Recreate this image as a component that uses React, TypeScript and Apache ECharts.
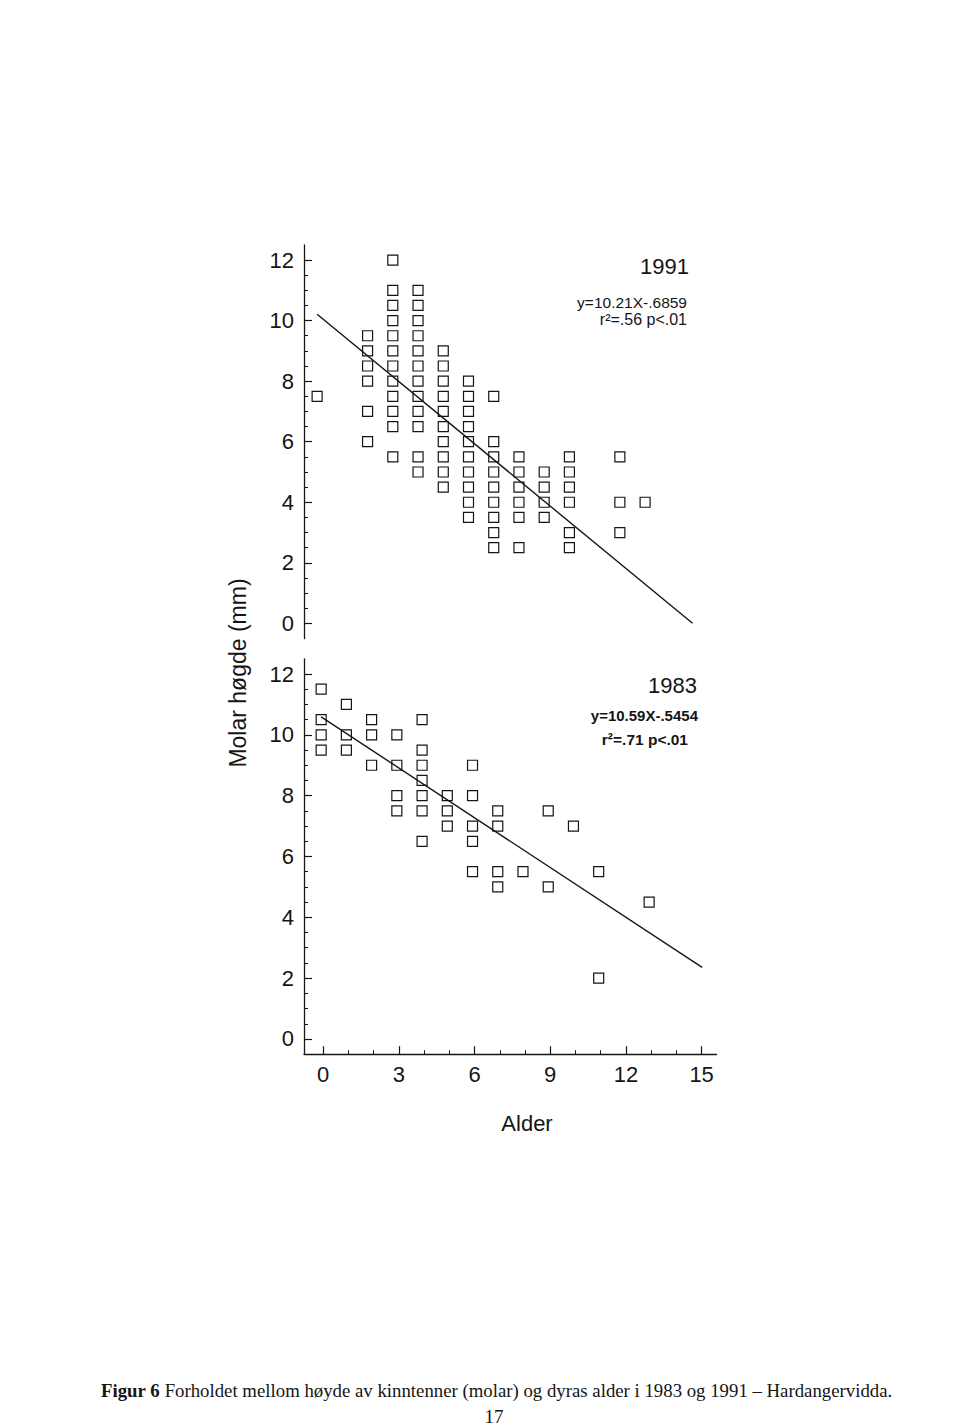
import React, { useEffect, useRef } from "react";
import * as echarts from "echarts";

// ---------- data ----------
// Molar height (mm) per age (years), index = age
const molar1991ByAge: number[][] = [
  [7.5], // 0
  [], // 1
  [9.5, 9, 8.5, 8, 7, 6], // 2
  [12, 11, 10.5, 10, 9.5, 9, 8.5, 8, 7.5, 7, 6.5, 5.5], // 3
  [11, 10.5, 10, 9.5, 9, 8.5, 8, 7.5, 7, 6.5, 5.5, 5], // 4
  [9, 8.5, 8, 7.5, 7, 6.5, 6, 5.5, 5, 4.5], // 5
  [8, 7.5, 7, 6.5, 6, 5.5, 5, 4.5, 4, 3.5], // 6
  [7.5, 6, 5.5, 5, 4.5, 4, 3.5, 3, 2.5], // 7
  [5.5, 5, 4.5, 4, 3.5, 2.5], // 8
  [5, 4.5, 4, 3.5], // 9
  [5.5, 5, 4.5, 4, 3, 2.5], // 10
  [], // 11
  [5.5, 4, 3], // 12
  [4], // 13
];

const molar1983ByAge: number[][] = [
  [11.5, 10.5, 10, 9.5], // 0
  [11, 10, 9.5], // 1
  [10.5, 10, 9], // 2
  [10, 9, 8, 7.5], // 3
  [10.5, 9.5, 9, 8.5, 8, 7.5, 6.5], // 4
  [8, 7.5, 7], // 5
  [9, 8, 7, 6.5, 5.5], // 6
  [7.5, 7, 5.5, 5], // 7
  [5.5], // 8
  [7.5, 5], // 9
  [7], // 10
  [5.5, 2], // 11
  [], // 12
  [4.5], // 13
];

// regression lines as printed on the chart
const fit1991 = { intercept: 10.21, slope: -0.6859, fromAge: 0, toAge: 14.88 };
const fit1983 = { intercept: 10.59, slope: -0.5454, fromAge: 0, toAge: 15.1 };

const xMinorTicks = [0, 1, 2, 3, 4, 5, 6, 7, 8, 9, 10, 11, 12, 13, 14, 15];
const xMajorTicks = [0, 3, 6, 9, 12, 15];
const yMinorTicks = [0, 0.5, 1, 1.5, 2, 2.5, 3, 3.5, 4, 4.5, 5, 5.5, 6, 6.5, 7, 7.5, 8, 8.5, 9, 9.5, 10, 10.5, 11, 11.5, 12];
const yMajorTicks = [0, 2, 4, 6, 8, 10, 12];

const label1991 = ["1991", "y=10.21X-.6859", "r²=.56 p<.01"];
const label1983 = ["1983", "y=10.59X-.5454", "r²=.71 p<.01"];
const yAxisTitle = "Molar høgde (mm)";
const xAxisTitle = "Alder";
const captionBold = "Figur 6";
const captionText =
  " Forholdet mellom høyde av kinntenner (molar) og dyras alder i 1983 og 1991 – Hardangervidda.";
const pageNumber = "17";

// ---------- helpers ----------
const toPoints = (byAge: number[][]) => {
  const pts: number[][] = [];
  byAge.forEach((vals, age) => vals.forEach((v) => pts.push([age, v])));
  return pts;
};
const fitLine = (f: { intercept: number; slope: number; fromAge: number; toAge: number }) => [
  [f.fromAge, f.intercept + f.slope * f.fromAge],
  [f.toAge, f.intercept + f.slope * f.toAge],
];

const SANS = '"Liberation Sans", Arial, Helvetica, sans-serif';
const SERIF = '"Liberation Serif", "Times New Roman", serif';
const INK = "#151515";

export default function App() {
  const ref = useRef<HTMLDivElement>(null);

  useEffect(() => {
    if (!ref.current) return;
    const chart = echarts.init(ref.current, undefined, { renderer: "svg" });

    const yAxisMain = (gridIndex: number) => ({
      gridIndex,
      type: "value",
      min: -0.5,
      max: 12.5,
      position: "left",
      axisLine: { show: true, onZero: false, lineStyle: { color: INK, width: 1.3 } },
      axisTick: { show: true, inside: true, length: 4, customValues: yMinorTicks, lineStyle: { color: INK, width: 1 } },
      axisLabel: { show: true, customValues: yMajorTicks, fontSize: 22, color: INK, fontFamily: SANS, margin: 10 },
      splitLine: { show: false },
    });
    const yAxisMajor = (gridIndex: number) => ({
      gridIndex,
      type: "value",
      min: -0.5,
      max: 12.5,
      position: "left",
      axisLine: { show: false, onZero: false },
      axisTick: { show: true, inside: true, length: 8, customValues: yMajorTicks, lineStyle: { color: INK, width: 1.2 } },
      axisLabel: { show: false },
      splitLine: { show: false },
    });

    chart.setOption({
      animation: false,
      backgroundColor: "#ffffff",
      grid: [
        { left: 304, top: 244.9, width: 412.5, height: 393.6 },
        { left: 304, top: 658.8, width: 412.5, height: 395.4 },
      ],
      xAxis: [
        { gridIndex: 0, type: "value", min: -0.52, max: 15.83, show: false, axisLine: { onZero: false } },
        {
          gridIndex: 1,
          type: "value",
          min: -0.76,
          max: 15.59,
          position: "bottom",
          axisLine: { show: true, onZero: false, lineStyle: { color: INK, width: 1.3 } },
          axisTick: { show: true, inside: true, length: 4, customValues: xMinorTicks, lineStyle: { color: INK, width: 1 } },
          axisLabel: { show: true, customValues: xMajorTicks, fontSize: 22, color: INK, fontFamily: SANS, margin: 9 },
          splitLine: { show: false },
        },
        {
          gridIndex: 1,
          type: "value",
          min: -0.76,
          max: 15.59,
          position: "bottom",
          axisLine: { show: false, onZero: false },
          axisTick: { show: true, inside: true, length: 8, customValues: xMajorTicks, lineStyle: { color: INK, width: 1.2 } },
          axisLabel: { show: false },
          splitLine: { show: false },
        },
        { gridIndex: 1, type: "value", min: -0.68, max: 15.67, show: false, axisLine: { onZero: false } },
      ],
      yAxis: [yAxisMain(0), yAxisMajor(0), yAxisMain(1), yAxisMajor(1)],
      series: [
        {
          name: "1991",
          type: "scatter",
          xAxisIndex: 0,
          yAxisIndex: 0,
          symbol: "rect",
          symbolSize: 10,
          itemStyle: { color: "#ffffff", borderColor: INK, borderWidth: 1.2, opacity: 1 },
          data: toPoints(molar1991ByAge),
          z: 3,
        },
        {
          name: "1991 fit",
          type: "line",
          xAxisIndex: 0,
          yAxisIndex: 0,
          symbol: "none",
          lineStyle: { color: INK, width: 1.4 },
          data: fitLine(fit1991),
          z: 4,
        },
        {
          name: "1983",
          type: "scatter",
          xAxisIndex: 3,
          yAxisIndex: 2,
          symbol: "rect",
          symbolSize: 10,
          itemStyle: { color: "#ffffff", borderColor: INK, borderWidth: 1.2, opacity: 1 },
          data: toPoints(molar1983ByAge),
          z: 3,
        },
        {
          name: "1983 fit",
          type: "line",
          xAxisIndex: 3,
          yAxisIndex: 2,
          symbol: "none",
          lineStyle: { color: INK, width: 1.4 },
          data: fitLine(fit1983),
          z: 4,
        },
      ],
      graphic: [
        { type: "text", x: 689, y: 266, style: { text: label1991[0], font: `22px ${SANS}`, fill: INK, align: "right", verticalAlign: "middle" } },
        { type: "text", x: 687, y: 302, style: { text: label1991[1], font: `15.5px ${SANS}`, fill: INK, align: "right", verticalAlign: "middle" } },
        { type: "text", x: 687, y: 319, style: { text: label1991[2], font: `16px ${SANS}`, fill: INK, align: "right", verticalAlign: "middle" } },
        { type: "text", x: 697, y: 685, style: { text: label1983[0], font: `22px ${SANS}`, fill: INK, align: "right", verticalAlign: "middle" } },
        { type: "text", x: 698, y: 715, style: { text: label1983[1], font: `bold 15px ${SANS}`, fill: INK, align: "right", verticalAlign: "middle" } },
        { type: "text", x: 688, y: 739, style: { text: label1983[2], font: `bold 15.5px ${SANS}`, fill: INK, align: "right", verticalAlign: "middle" } },
        { type: "text", x: 527, y: 1123, style: { text: xAxisTitle, font: `22px ${SANS}`, fill: INK, align: "center", verticalAlign: "middle" } },
        {
          type: "text",
          x: 238,
          y: 673,
          rotation: Math.PI / 2,
          style: { text: yAxisTitle, font: `23px ${SANS}`, fill: INK, align: "center", verticalAlign: "middle" },
        },
        {
          type: "text",
          x: 101,
          y: 1390,
          style: {
            text: `{b|${captionBold}}${captionText}`,
            font: `18.8px ${SERIF}`,
            fill: INK,
            align: "left",
            verticalAlign: "middle",
            rich: { b: { fontWeight: "bold", fontSize: 18.8, fontFamily: SERIF, fill: INK } },
          },
        },
        { type: "text", x: 494, y: 1416, style: { text: pageNumber, font: `19px ${SERIF}`, fill: INK, align: "center", verticalAlign: "middle" } },
      ],
    });

    return () => chart.dispose();
  }, []);

  return (
    <div
      ref={ref}
      style={{ position: "absolute", left: 0, top: 0, width: 960, height: 1425, background: "#ffffff" }}
    />
  );
}
